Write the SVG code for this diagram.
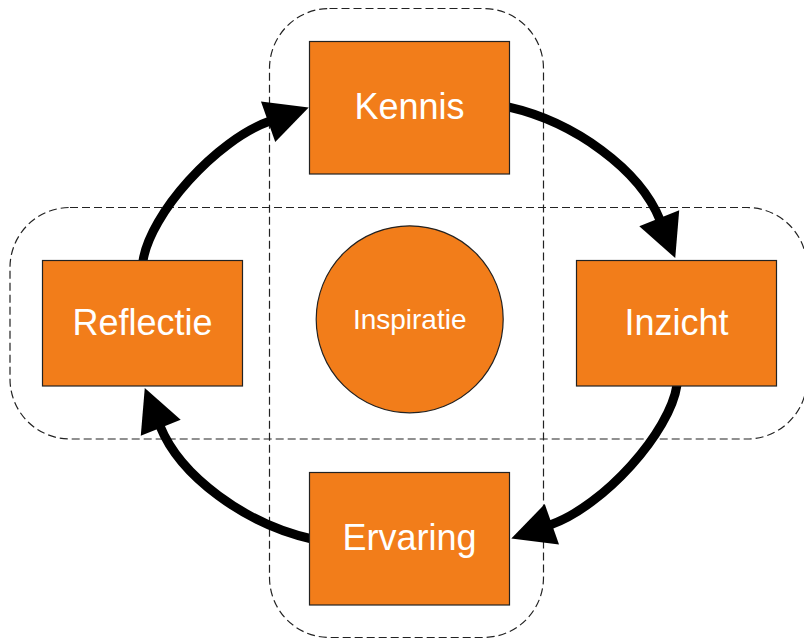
<svg xmlns="http://www.w3.org/2000/svg" width="804" height="642" viewBox="0 0 804 642">
<style>
.grp{fill:none;stroke:#222;stroke-width:1.2;stroke-dasharray:8 4}
.box{fill:#F27D1A;stroke:#222;stroke-width:1.2}
.lbl{font-family:"Liberation Sans",Arial,sans-serif;font-size:36px;fill:#fff;text-anchor:middle}
.lbl2{font-family:"Liberation Sans",Arial,sans-serif;font-size:28px;fill:#fff;text-anchor:middle}
.arr{fill:none;stroke:#000;stroke-width:9;stroke-linecap:round;marker-end:url(#ah)}
</style>
<defs>
<marker id="ah" markerUnits="userSpaceOnUse" markerWidth="50" markerHeight="50" refX="0" refY="0" orient="auto" overflow="visible">
<path d="M-2,-21.5 L41,0 L-2,21.5 Z" fill="#000"/>
</marker>
</defs>
<g id="groups">
<rect class="grp" x="269.5" y="8.5" width="274" height="629" rx="60" ry="60"/>
<rect class="grp" x="10" y="207.5" width="797" height="231.5" rx="60" ry="60"/>
</g>
<g id="connectors">
<path class="arr" d="M508,107 C575,122 640,170 660,220"/>
<path class="arr" d="M677,385 C670,432 604,506 550,525"/>
<path class="arr" d="M312,539 C245,524 180,476 160,426"/>
<path class="arr" d="M143,261 C150,214 216,140 270,121"/>
</g>
<g id="kennis">
<rect class="box" x="309.5" y="41.5" width="200" height="132.5"/>
<text class="lbl" x="409.5" y="118.5">Kennis</text>
</g>
<g id="inzicht">
<rect class="box" x="576.5" y="260.5" width="200" height="125.5"/>
<text class="lbl" x="676.5" y="335">Inzicht</text>
</g>
<g id="ervaring">
<rect class="box" x="309.5" y="472.5" width="200" height="132.5"/>
<text class="lbl" x="409.5" y="549.5">Ervaring</text>
</g>
<g id="reflectie">
<rect class="box" x="42.5" y="260.5" width="200" height="125.5"/>
<text class="lbl" x="142.5" y="335">Reflectie</text>
</g>
<g id="inspiratie">
<circle class="box" cx="409.7" cy="319.3" r="93.5"/>
<text class="lbl2" x="409.7" y="329">Inspiratie</text>
</g>
</svg>
